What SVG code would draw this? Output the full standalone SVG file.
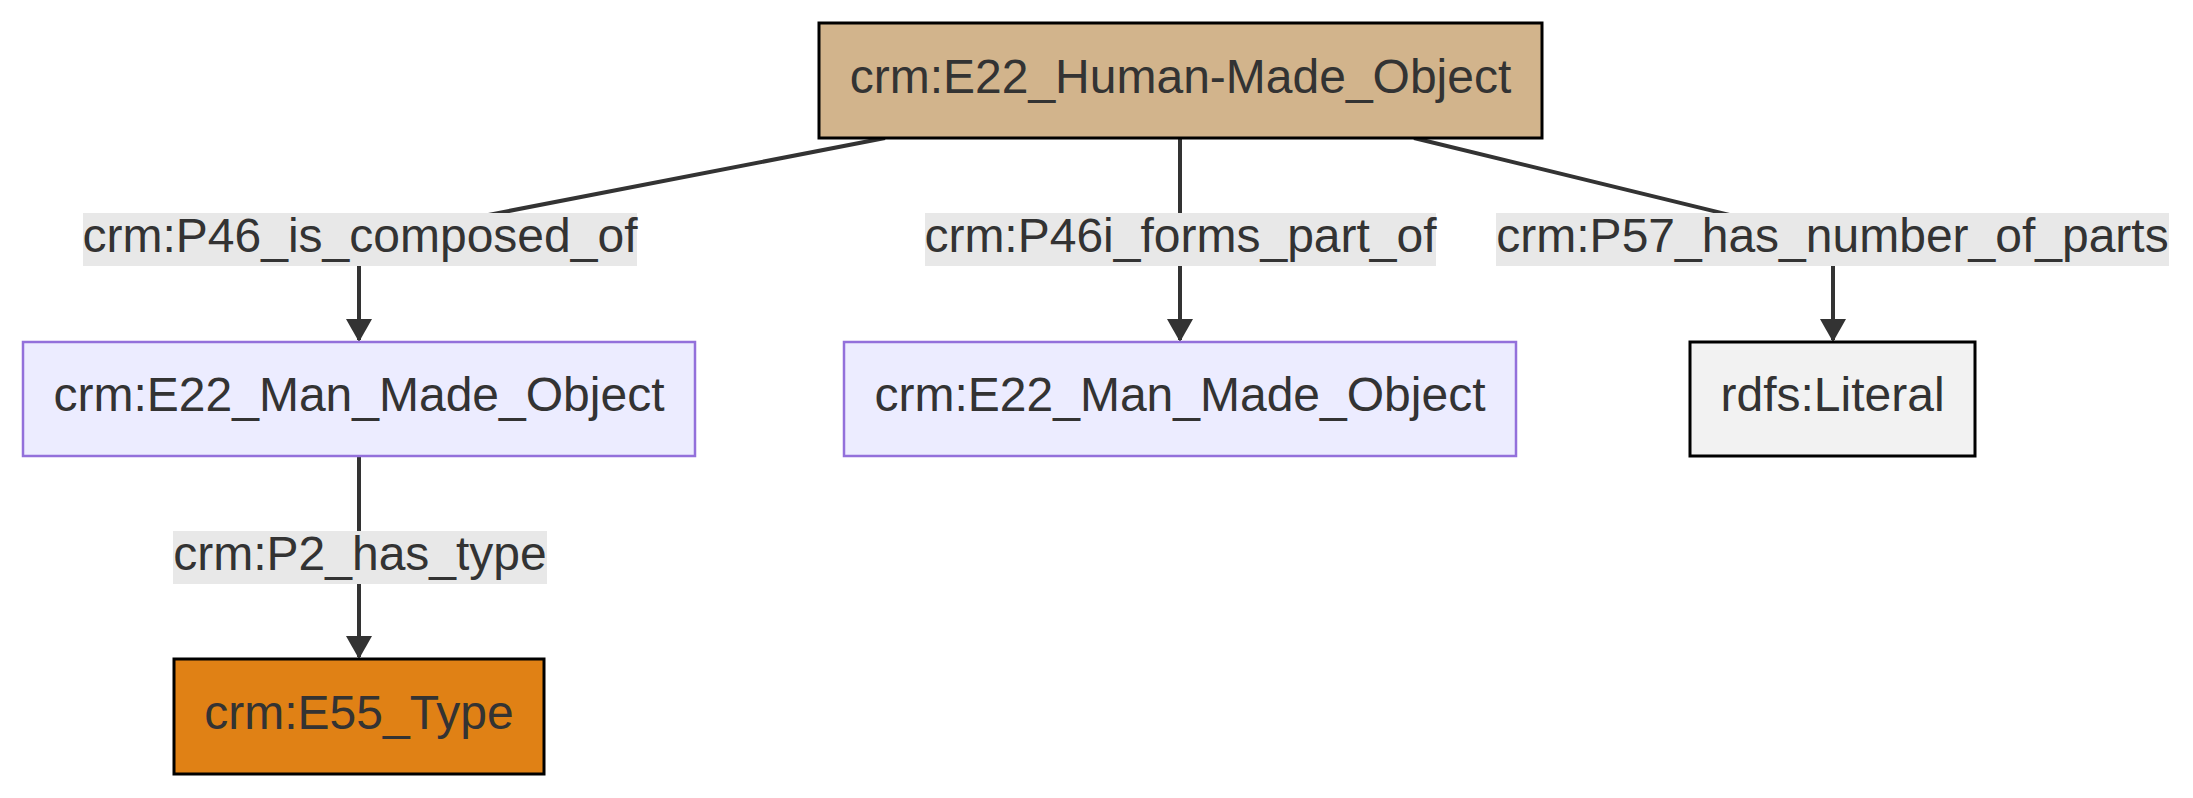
<svg xmlns="http://www.w3.org/2000/svg" width="2193" height="798" viewBox="0 0 2193 798">
<style>
text{font-family:"Liberation Sans",Arial,sans-serif;font-size:48px;fill:#333;text-anchor:middle}
.edge{fill:none;stroke:#333;stroke-width:4}
.lbl{fill:#e8e8e8}
.cls{fill:#ECECFF;stroke:#9370DB;stroke-width:2.5}
.blk{stroke:#000;stroke-width:3}
</style>
<defs>
<marker id="arr" markerUnits="userSpaceOnUse" viewBox="0 0 23 26" markerWidth="23" markerHeight="26" refX="21" refY="13" orient="auto">
<path d="M0,0 L23,13 L0,26 z" fill="#333"/>
</marker>
</defs>
<rect width="2193" height="798" fill="#fff"/>
<g id="connectors">
<path class="edge" d="M885,138 L380,236 Q359,240 359,260 L359,340" marker-end="url(#arr)"/>
<path class="edge" d="M1180,138 L1180,340" marker-end="url(#arr)"/>
<path class="edge" d="M1414,138 L1812,235 Q1833,240 1833,260 L1833,340" marker-end="url(#arr)"/>
<path class="edge" d="M359,456 L359,657" marker-end="url(#arr)"/>
<g id="edge-labels">
<rect class="lbl" x="83" y="213" width="554" height="53"/>
<text x="360" y="252">crm:P46_is_composed_of</text>
<rect class="lbl" x="925" y="213" width="511" height="53"/>
<text x="1180.5" y="252">crm:P46i_forms_part_of</text>
<rect class="lbl" x="1496" y="213" width="673" height="53"/>
<text x="1832.5" y="252">crm:P57_has_number_of_parts</text>
<rect class="lbl" x="173" y="531" width="374" height="53"/>
<text x="360" y="570">crm:P2_has_type</text>
</g>
</g>
<g id="node-human-made">
<rect class="blk" x="819" y="23" width="723" height="115" fill="#D2B48C"/>
<text x="1180.5" y="93">crm:E22_Human-Made_Object</text>
</g>
<g id="node-man-made-1">
<rect class="cls" x="23" y="342" width="672" height="114"/>
<text x="359" y="411">crm:E22_Man_Made_Object</text>
</g>
<g id="node-man-made-2">
<rect class="cls" x="844" y="342" width="672" height="114"/>
<text x="1180" y="411">crm:E22_Man_Made_Object</text>
</g>
<g id="node-literal">
<rect class="blk" x="1690" y="342" width="285" height="114" fill="#F2F2F2"/>
<text x="1832.5" y="411">rdfs:Literal</text>
</g>
<g id="node-type">
<rect class="blk" x="174" y="659" width="370" height="115" fill="#E08115"/>
<text x="359" y="729">crm:E55_Type</text>
</g>
</svg>
